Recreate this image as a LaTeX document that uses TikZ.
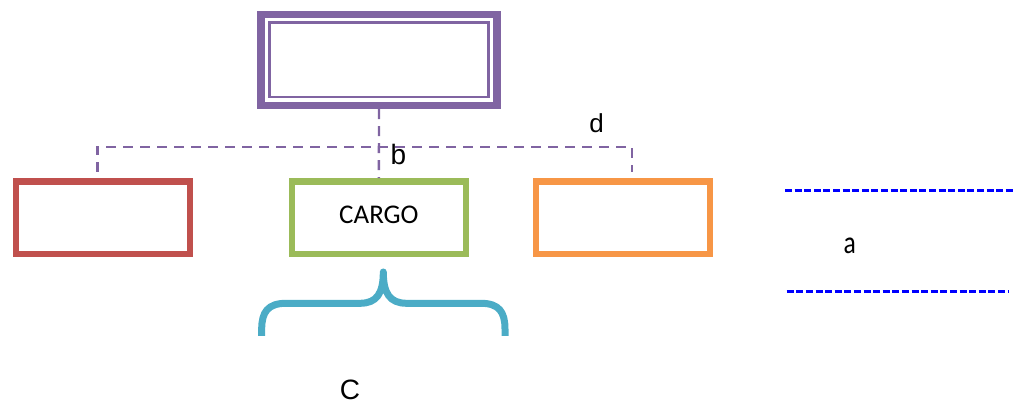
\documentclass[tikz,border=0pt]{standalone}
\usepackage{fontspec}
\usepackage{graphicx}
\newfontfamily\arialf{Liberation Sans}
\newfontfamily\calf{Carlito}
\definecolor{frame}{HTML}{8064A2}
\definecolor{boxred}{HTML}{C0504D}
\definecolor{boxgreen}{HTML}{9BBB59}
\definecolor{boxorange}{HTML}{F79646}
\definecolor{bracecol}{HTML}{4BACC6}
\begin{document}
\begin{tikzpicture}[x=1pt,y=-1pt,
  unitbox/.style={draw=#1,line width=6.5pt,minimum width=174pt,minimum height=72.5pt,inner sep=0pt},
  tree/.style={draw=frame,line width=2.4pt,dash pattern=on 10pt off 7pt},
  guide/.style={draw=blue,line width=3pt,dash pattern=on 7pt off 2.6pt},
  lbl/.style={inner sep=0pt,font=\arialf\fontsize{28}{28}\selectfont}]
\useasboundingbox (0,0) rectangle (1013,403);

% head box: heavy outer frame with a thin inner frame
\node[draw=frame,line width=7.5pt,minimum width=236pt,minimum height=91pt,inner sep=0pt] (head) at (379,60) {};
\node[draw=frame,line width=2.5pt,minimum width=219pt,minimum height=74.5pt,inner sep=0pt] (headin) at (379,59.75) {};

% the three boxes of the second level
\node[unitbox=boxred] (left) at (103,217.75) {};
\node[unitbox=boxgreen,text depth=5.4pt,font=\calf\fontsize{27}{27}\selectfont] (mid) at (378.9,217.75) {CARGO};
\node[unitbox=boxorange] (right) at (623,217.75) {};

% dashed tree lines
\coordinate (lt) at (97.4,172);
\coordinate (jl) at (97.4,147);
\coordinate (jr) at (632,147);
\coordinate (rt) at (632,172);
\draw[tree] (lt) -- (jl) -- (jr) -- (rt);
\draw[tree] (head.south) -- (mid.north);

% labels
\node[lbl] (lb) at (398.3,154) {b};
\node[lbl,font=\arialf\fontsize{26}{26}\selectfont] (ld) at (596.7,122.8) {d};
\node[lbl,font=\arialf\fontsize{28}{28}\selectfont] (lc) at (350,389.5) {C};
\node[lbl,font=\calf\fontsize{32}{32}\selectfont] (la) at (849.7,245.5) {\scalebox{0.8}[1]{a}};

% curly brace under CARGO
\draw[bracecol,line width=7pt,line cap=butt,line join=round]
  (261.7,336) -- (261.7,329)
  .. controls (261.7,312) and (268,303.3) .. (286,303.3)
  -- (360,303.3)
  .. controls (377,303.3) and (383.3,293) .. (383.3,272)
  .. controls (383.3,293) and (389.6,303.3) .. (406.6,303.3)
  -- (481,303.3)
  .. controls (499,303.3) and (505,312) .. (505,329)
  -- (505,336);

% blue dashed guide lines
\coordinate (g1a) at (785,190.7);
\coordinate (g1b) at (1013,190.7);
\coordinate (g2a) at (786.7,291.3);
\coordinate (g2b) at (1009.3,291.3);
\draw[guide] (g1a) -- (g1b);
\draw[guide] (g2a) -- (g2b);
\end{tikzpicture}
\end{document}
